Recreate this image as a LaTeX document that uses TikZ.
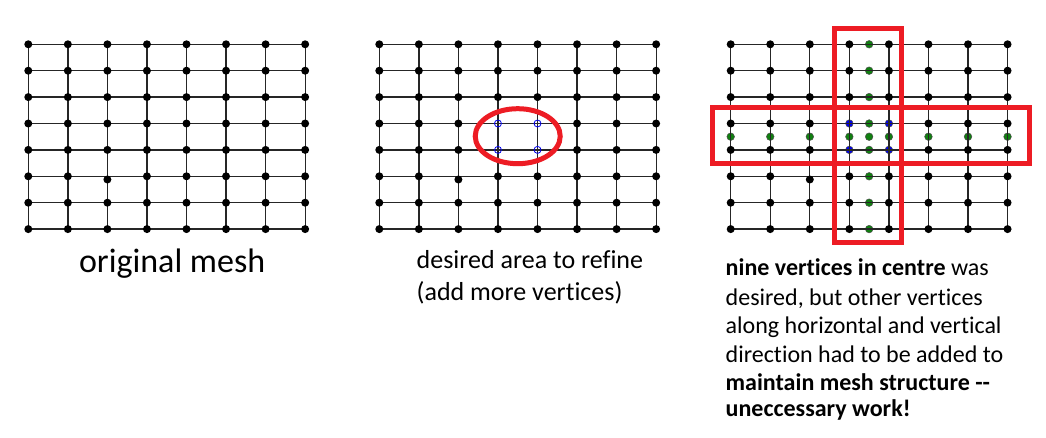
\documentclass[tikz,border=0pt]{standalone}
\usepackage{fontspec}
\setmainfont{Carlito}[Ligatures={TeXOff,CommonOff}]
\usetikzlibrary{calc}
\definecolor{pred}{RGB}{237,28,36}
\definecolor{dgreen}{RGB}{16,128,16}
\definecolor{vblue}{RGB}{0,0,235}
\tikzset{
  edge/.style={line width=1.3pt, black!85},
  vtx/.style={fill=black},
  gvtx/.style={fill=dgreen, draw=black!70, line width=0.5pt},
  bvtx/.style={fill=vblue, draw=black!70, line width=0.5pt},
  hollow/.style={draw=vblue, line width=0.8pt},
  redmark/.style={draw=pred, line width=5pt},
  lbl/.style={anchor=base west, inner sep=0pt, outer sep=0pt}
}
\begin{document}
\begin{tikzpicture}[x=1pt,y=-1pt]
\useasboundingbox (0,0) rectangle (1046,438);
\fill[white] (0,0) rectangle (1046,438);

% grid vertex coordinates
\foreach \g/\xo in {a/28.3,b/379.3,c/730.7}{
  \foreach \i in {0,...,7}{
    \foreach \j in {0,...,7}{
      \coordinate (\g-\i-\j) at ({\xo+39.55*\i},{44.3+26.4*\j});
    }
  }
}

% third mesh: added (green) and highlighted (blue) vertices, drawn below the edges
\foreach \j in {0,...,7}{
  \filldraw[gvtx] ($(c-3-\j)!.5!(c-4-\j)$) circle (3.8);
}
\foreach \i in {0,...,7}{
  \filldraw[gvtx] ($(c-\i-3)!.5!(c-\i-4)$) circle (3.8);
}
\filldraw[gvtx] ($(c-3-3)!.5!(c-4-4)$) circle (3.8);
\foreach \i in {3,4}{
  \foreach \j in {3,4}{
    \filldraw[bvtx] (c-\i-\j) circle (3.8);
  }
}

% edges
\foreach \g in {a,b,c}{
  \foreach \k in {0,...,7}{
    \draw[edge] (\g-0-\k) -- (\g-7-\k);
    \draw[edge] (\g-\k-0) -- (\g-\k-7);
  }
}

% black vertices
\foreach \g/\s in {a/0,b/1,c/1}{
  \foreach \i in {0,...,7}{
    \foreach \j in {0,...,7}{
      \pgfmathtruncatemacro\hole{\s*(\i>2)*(\i<5)*(\j>2)*(\j<5)}
      \pgfmathsetmacro\dy{(\i==2)*(\j==5)*3.2}
      \ifnum\hole=0 \fill[vtx] ($(\g-\i-\j)+(0,\dy)$) circle (4); \fi
    }
  }
}

% second mesh: hollow blue vertices and red ellipse
\foreach \i in {3,4}{
  \foreach \j in {3,4}{
    \draw[hollow] (b-\i-\j) circle (3.5);
  }
}
\coordinate (ectr) at ($(b-3-3)!.5!(b-4-4)$);
\draw[redmark] ($(ectr)+(0,-0.5)$) ellipse [x radius=42.5, y radius=27.5];

% third mesh: red rectangles
\coordinate (vr1) at (834.8,28.2);
\coordinate (vr2) at (901,242.5);
\coordinate (hr1) at (712.5,108);
\coordinate (hr2) at (1029,163.5);
\draw[redmark] (vr1) rectangle (vr2);
\draw[redmark] (hr1) rectangle (hr2);

% captions
\node[lbl, font=\fontsize{34}{40}\selectfont] (t1) at (79,272.3) {original mesh};

\node[lbl, font=\fontsize{26}{31}\selectfont] (t2a) at (416.7,268.3) {desired area to refine};
\node[lbl, font=\fontsize{26}{31}\selectfont] (t2b) at (416.7,300) {(add more vertices)};

\node[lbl, font=\fontsize{24}{29}\selectfont] (t3a) at (725.7,276) {\textbf{nine vertices in centre} was};
\node[lbl, font=\fontsize{24}{29}\selectfont] (t3b) at (725.7,305) {desired, but other vertices};
\node[lbl, font=\fontsize{24}{29}\selectfont] (t3c) at (725.7,333.3) {along horizontal and vertical};
\node[lbl, font=\fontsize{24}{29}\selectfont] (t3d) at (725.7,362.3) {direction had to be added to};
\node[lbl, font=\fontsize{24}{29}\selectfont\bfseries] (t3e) at (725.7,390.7) {maintain mesh structure --};
\node[lbl, font=\fontsize{24}{29}\selectfont\bfseries] (t3f) at (725.7,416.5) {uneccessary work!};
\end{tikzpicture}
\end{document}
